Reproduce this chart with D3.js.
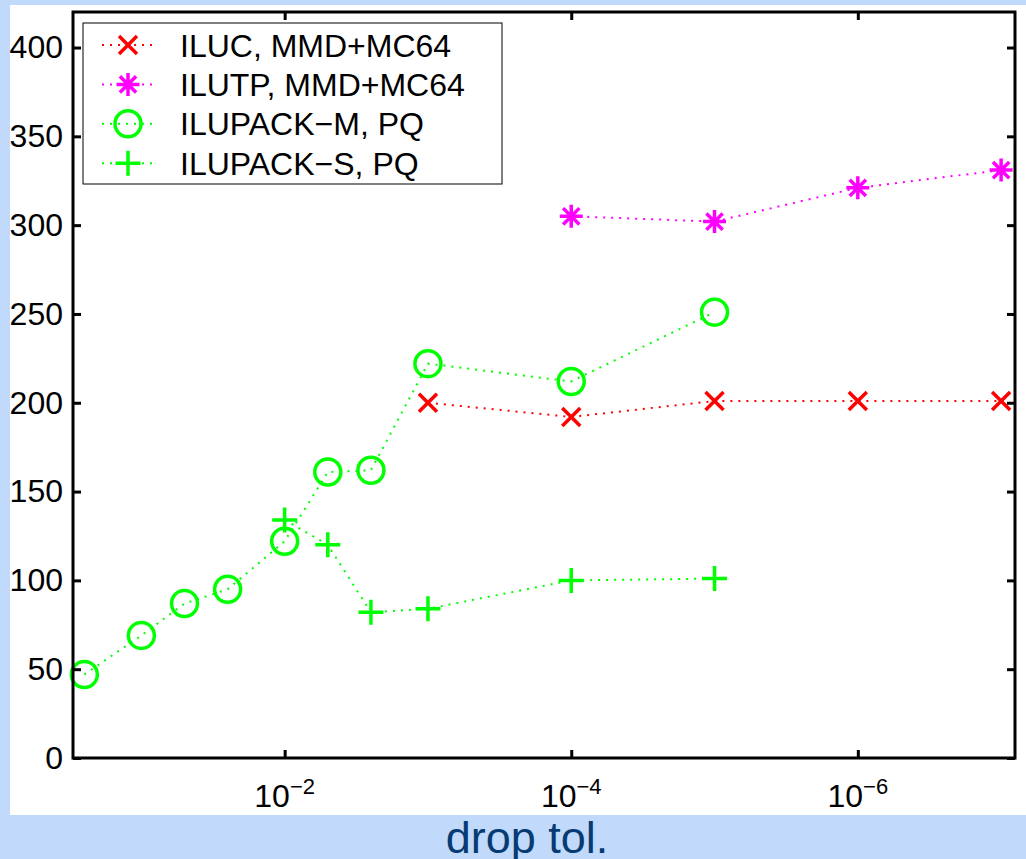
<!DOCTYPE html>
<html>
<head>
<meta charset="utf-8">
<script src="https://cdn.jsdelivr.net/npm/d3@7"></script>
<style>
  html, body { margin: 0; padding: 0; background: #c1d9fa; }
  svg { display: block; }
  text { font-family: "Liberation Sans", Arial, Helvetica, sans-serif; }
</style>
</head>
<body>
<script>
// Drop tolerances (x) and iteration counts (y) for each preconditioner
const tolILUC   = [1e-3, 1e-4, 1e-5, 1e-6, 1e-7];
const valILUC   = [200, 192, 201, 201, 201];
const tolILUTP  = [1e-4, 1e-5, 1e-6, 1e-7];
const valILUTP  = [305, 302, 321, 331];
const tolPackM  = [0.25, 0.1, 0.05, 0.025, 0.01, 0.005, 0.0025, 1e-3, 1e-4, 1e-5];
const valPackM  = [47, 69, 87, 95, 122, 161, 162, 222, 212, 251];
const tolPackS  = [0.01, 0.005, 0.0025, 1e-3, 1e-4, 1e-5];
const valPackS  = [134, 120, 82, 84, 100, 101];

const seriesNames = ["ILUC, MMD+MC64", "ILUTP, MMD+MC64", "ILUPACK\u2212M, PQ", "ILUPACK\u2212S, PQ"];
const xTickValues = [1e-2, 1e-4, 1e-6];
const xTickExponents = ["\u22122", "\u22124", "\u22126"];
const yTickValues = [0, 50, 100, 150, 200, 250, 300, 350, 400];
const xLabel = "drop tol.";

const W = 1026, H = 859;
const plotLeft = 73, plotRight = 1015, plotTop = 12, plotBottom = 758;

const svg = d3.select("body").append("svg").attr("width", W).attr("height", H);

// figure background and white canvas
svg.append("rect").attr("width", W).attr("height", H).attr("fill", "#c1d9fa");
svg.append("rect").attr("x", 10).attr("y", 5).attr("width", W - 10).attr("height", 810).attr("fill", "#ffffff");

const x = d3.scaleLog().domain([0.3, 8e-8]).range([plotLeft, plotRight]);
const y = d3.scaleLinear().domain([0, 420]).range([plotBottom, plotTop]);

// marker shapes
function markerPath(type) {
  if (type === "x") { const s = 9; return `M${-s},${-s}L${s},${s}M${-s},${s}L${s},${-s}`; }
  if (type === "plus") { const s = 12.5; return `M${-s},0L${s},0M0,${-s}L0,${s}`; }
  if (type === "star") {
    const s = 11.5, d = s * 0.7071;
    return `M${-s},0L${s},0M0,${-s}L0,${s}M${-d},${-d}L${d},${d}M${-d},${d}L${d},${-d}`;
  }
  return null;
}

const series = [
  { name: seriesNames[0], tol: tolILUC,  val: valILUC,  color: "#ff0000", marker: "x" },
  { name: seriesNames[1], tol: tolILUTP, val: valILUTP, color: "#ff00ff", marker: "star" },
  { name: seriesNames[2], tol: tolPackM, val: valPackM, color: "#00ff00", marker: "circle" },
  { name: seriesNames[3], tol: tolPackS, val: valPackS, color: "#00ff00", marker: "plus" }
];

function drawMarker(g, type, color) {
  if (type === "circle") {
    g.append("circle").attr("r", 13).attr("fill", "none").attr("stroke", color).attr("stroke-width", 3.5);
  } else {
    g.append("path").attr("d", markerPath(type)).attr("fill", "none")
      .attr("stroke", color).attr("stroke-width", 3.5);
  }
}

// dotted lines
const line = d3.line().x(d => x(d[0])).y(d => y(d[1]));
series.forEach(s => {
  svg.append("path")
    .datum(s.tol.map((t, i) => [t, s.val[i]]))
    .attr("d", line)
    .attr("fill", "none")
    .attr("stroke", s.color)
    .attr("stroke-width", 2)
    .attr("stroke-dasharray", "2 6");
});

// markers
series.forEach(s => {
  s.tol.forEach((t, i) => {
    const g = svg.append("g").attr("transform", `translate(${x(t)},${y(s.val[i])})`);
    drawMarker(g, s.marker, s.color);
  });
});

// axes with inward ticks on all four sides
const yAxisL = svg.append("g").attr("transform", `translate(${plotLeft},0)`)
  .call(d3.axisLeft(y).tickValues(yTickValues).tickSize(-8).tickPadding(10).tickFormat(d3.format("d")));
const yAxisR = svg.append("g").attr("transform", `translate(${plotRight},0)`)
  .call(d3.axisRight(y).tickValues(yTickValues).tickSize(-8).tickFormat(""));
const xAxisB = svg.append("g").attr("transform", `translate(0,${plotBottom})`)
  .call(d3.axisBottom(x).tickValues(xTickValues).tickSize(-8).tickFormat(""));
const xAxisT = svg.append("g").attr("transform", `translate(0,${plotTop})`)
  .call(d3.axisTop(x).tickValues(xTickValues).tickSize(-8).tickFormat(""));

[yAxisL, yAxisR, xAxisB, xAxisT].forEach(a => {
  a.select(".domain").remove();
  a.selectAll(".tick line").attr("stroke", "#000").attr("stroke-width", 3);
});
yAxisL.selectAll(".tick text")
  .attr("font-size", 32).attr("fill", "#000")
  .attr("font-family", "'Liberation Sans', Arial, Helvetica, sans-serif");

// power-of-ten labels on the bottom axis
xTickValues.forEach((v, i) => {
  const t = svg.append("text")
    .attr("x", x(v)).attr("y", plotBottom + 49)
    .attr("text-anchor", "middle")
    .attr("font-size", 32).attr("fill", "#000");
  t.append("tspan").text("10");
  t.append("tspan").attr("dy", -13).attr("font-size", 22).text(xTickExponents[i]);
});

// plot box
svg.append("rect")
  .attr("x", plotLeft).attr("y", plotTop)
  .attr("width", plotRight - plotLeft).attr("height", plotBottom - plotTop)
  .attr("fill", "none").attr("stroke", "#000").attr("stroke-width", 3);

// legend
const lg = svg.append("g");
lg.append("rect").attr("x", 83).attr("y", 23).attr("width", 419).attr("height", 161)
  .attr("fill", "#fff").attr("stroke", "#000").attr("stroke-width", 1);
series.forEach((s, i) => {
  const cy = 45 + i * 39.4;
  lg.append("line").attr("x1", 102).attr("x2", 154).attr("y1", cy).attr("y2", cy)
    .attr("stroke", s.color).attr("stroke-width", 2).attr("stroke-dasharray", "2 6");
  const g = lg.append("g").attr("transform", `translate(128,${cy})`);
  drawMarker(g, s.marker, s.color);
  lg.append("text").attr("x", 180).attr("y", cy).attr("dy", "0.36em")
    .attr("font-size", 32).attr("fill", "#000").text(s.name);
});

// x-axis title
svg.append("text")
  .attr("x", 527).attr("y", 853)
  .attr("text-anchor", "middle")
  .attr("font-size", 45).attr("fill", "#073b73")
  .text(xLabel);
</script>
</body>
</html>
